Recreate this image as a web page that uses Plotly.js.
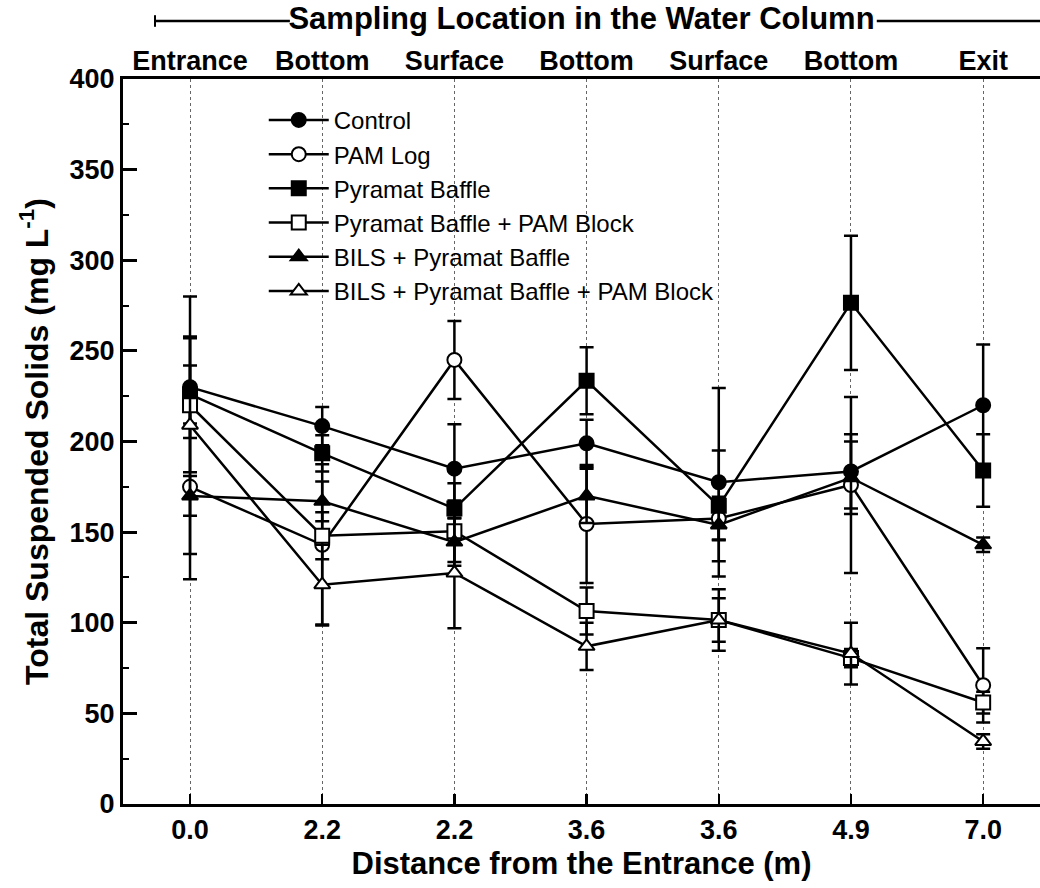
<!DOCTYPE html>
<html>
<head>
<meta charset="utf-8">
<script src="https://cdn.plot.ly/plotly-3.0.1.min.js"></script>
<style>
html,body{margin:0;padding:0;background:#fff;}
#chart{width:1040px;height:888px;}
</style>
</head>
<body>
<div id="chart"></div>
<script>
// Category positions along the channel (index) and labels
const catIndex = [0, 1, 2, 3, 4, 5, 6];
const distanceLabels = ["0.0", "2.2", "2.2", "3.6", "3.6", "4.9", "7.0"];
const locationLabels = ["Entrance", "Bottom", "Surface", "Bottom", "Surface", "Bottom", "Exit"];

// Series values (mg/L) and error values
const seriesNames = ["Control", "PAM Log", "Pyramat Baffle", "Pyramat Baffle + PAM Block",
                     "BILS + Pyramat Baffle", "BILS + Pyramat Baffle + PAM Block"];
const control      = [230, 208.5, 185, 199, 177.5, 183.5, 220];
const controlErr   = [28, 10.5, 24.5, 13, 52, 20.5, 33.5];
const pamLog       = [175, 143, 245, 154.5, 157.5, 176, 65.5];
const pamLogErr    = [51, 44.5, 21.5, 32.5, 12, 48.5, 20.5];
const pyrBaffle    = [226, 193.5, 163, 233.5, 164.5, 276.5, 184];
const pyrBaffleErr = [16, 10, 14, 18.5, 30.5, 37, 20];
const pyrPam       = [220, 148, 150.5, 106.5, 101.5, 80.5, 56];
const pyrPamErr    = [37, 13, 17, 13, 12, 5, 6];
const bilsPyr      = [170, 167, 144.5, 170, 154, 180, 143];
const bilsPyrErr   = [11, 11, 13, 15, 8, 20, 4];
const bilsPyrPam   = [209, 121, 127.5, 87, 101.5, 83, 34.5];
const bilsPyrPamErr= [71, 22, 30.5, 13, 17, 17, 4];

const yVals = [control, pamLog, pyrBaffle, pyrPam, bilsPyr, bilsPyrPam];
const yErrs = [controlErr, pamLogErr, pyrBaffleErr, pyrPamErr, bilsPyrErr, bilsPyrPamErr];
const symbols = ["circle", "circle", "square", "square", "triangle-up", "triangle-up"];
const fills = ["black", "white", "black", "white", "black", "white"];

const FONT = "Liberation Sans, Arial, sans-serif";

const traces = seriesNames.map((name, i) => ({
  type: "scatter",
  mode: "lines+markers",
  name: name,
  x: catIndex,
  y: yVals[i],
  line: {color: "black", width: 2.5},
  marker: {symbol: symbols[i], size: 14, color: fills[i], line: {color: "black", width: 2}},
  error_y: {type: "data", array: yErrs[i], visible: true, color: "black", thickness: 2.5, width: 7},
  cliponaxis: false
}));

// invisible companion trace so the top (location) axis is drawn
traces.push({
  type: "scatter", mode: "markers", x: catIndex, y: control, xaxis: "x2", yaxis: "y",
  marker: {opacity: 0, size: 1}, showlegend: false, hoverinfo: "skip"
});

const layout = {
  width: 1040,
  height: 888,
  margin: {l: 123, r: 0, t: 79, b: 84},
  paper_bgcolor: "white",
  plot_bgcolor: "white",
  showlegend: true,
  font: {family: FONT, color: "black"},
  xaxis: {
    range: [-0.507, 6.43],
    tickvals: catIndex,
    ticktext: distanceLabels,
    ticks: "inside",
    ticklen: 10,
    tickwidth: 2.5,
    tickcolor: "black",
    showline: true,
    linewidth: 3,
    linecolor: "black",
    showgrid: true,
    gridcolor: "#666",
    gridwidth: 1,
    griddash: "dot",
    zeroline: false,
    tickfont: {family: FONT, size: 27, weight: "bold", color: "black"},
    title: {text: "Distance from the Entrance (m)", font: {family: FONT, size: 31, weight: "bold", color: "black"}, standoff: 8}
  },
  xaxis2: {
    overlaying: "x",
    side: "top",
    anchor: "y",
    range: [-0.507, 6.43],
    tickvals: catIndex,
    ticktext: locationLabels,
    ticks: "",
    ticklabelstandoff: -5,
    showline: true,
    linewidth: 3,
    linecolor: "black",
    showgrid: false,
    zeroline: false,
    tickfont: {family: FONT, size: 27, weight: "bold", color: "black"},
    title: {text: "Sampling Location in the Water Column", font: {family: FONT, size: 31, weight: "bold", color: "black"}, standoff: 8}
  },
  yaxis: {
    range: [0, 400],
    tickvals: [0, 50, 100, 150, 200, 250, 300, 350, 400],
    ticks: "inside",
    ticklen: 14,
    tickwidth: 3,
    tickcolor: "black",
    minor: {tickvals: [25, 75, 125, 175, 225, 275, 325, 375], ticks: "inside", ticklen: 6, tickwidth: 2, tickcolor: "black"},
    showline: true,
    linewidth: 3,
    linecolor: "black",
    showgrid: false,
    zeroline: false,
    tickfont: {family: FONT, size: 27, weight: "bold", color: "black"},
    title: {text: "Total Suspended Solids (mg L<sup>-1</sup>)", font: {family: FONT, size: 32, weight: "bold", color: "black"}, standoff: 12}
  },
  legend: {
    x: 0.1535, y: 0.974, xanchor: "left", yanchor: "top",
    bgcolor: "rgba(0,0,0,0)",
    font: {family: FONT, size: 24, color: "black"},
    itemwidth: 60,
    tracegroupgap: 0
  },
  shapes: [
    {type: "line", xref: "paper", yref: "paper", x0: 0.0349, x1: 0.182, y0: 1.08, y1: 1.08, line: {color: "black", width: 2.5}},
    {type: "line", xref: "paper", yref: "paper", x0: 0.0349, x1: 0.0349, y0: 1.072, y1: 1.088, line: {color: "black", width: 2}},
    {type: "line", xref: "paper", yref: "paper", x0: 0.822, x1: 1.0, y0: 1.08, y1: 1.08, line: {color: "black", width: 2.5}}
  ]
};

Plotly.newPlot("chart", traces, layout, {displayModeBar: false, staticPlot: true});
</script>
</body>
</html>
